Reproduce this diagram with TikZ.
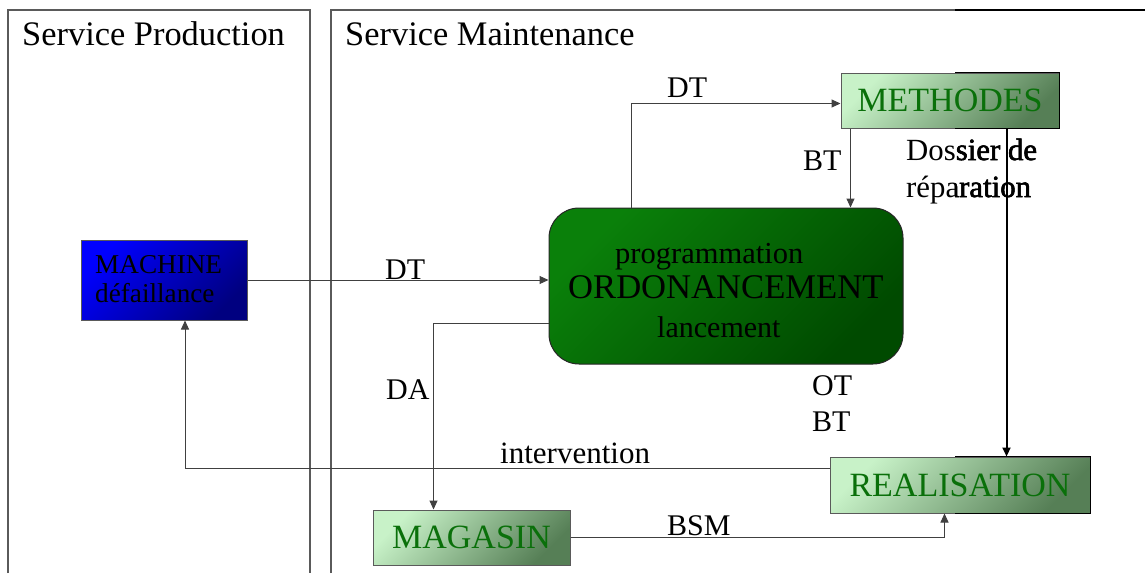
\documentclass[tikz,border=0pt]{standalone}
\usepackage{fontspec}
\setmainfont{Liberation Serif}
\usetikzlibrary{arrows.meta}

\definecolor{framegray}{HTML}{5A5A5A}
\definecolor{linegray}{HTML}{404040}
\definecolor{paleA}{HTML}{C8F2C8}
\definecolor{paleB}{HTML}{567F56}
\definecolor{boxtext}{HTML}{0A700A}
\definecolor{blueA}{HTML}{0000FF}
\definecolor{blueB}{HTML}{000080}
\definecolor{darkA}{HTML}{0A800A}
\definecolor{darkB}{HTML}{004A00}

\newcommand{\fsz}[1]{\fontsize{#1}{#1}\selectfont}

\tikzset{
  frameline/.style={draw=framegray, line width=1.1pt},
  palebox/.style={draw=framegray, line width=1pt, top color=paleA, bottom color=paleB,
    shading angle=45, inner sep=0pt, text=boxtext, font=\fsz{34},
    text height=22.5pt, text depth=0pt},
  conn/.style={draw=linegray, line width=1pt, -{Triangle[length=9pt,width=8pt]}},
  lbl/.style={inner sep=0pt, anchor=base west, font=\fsz{30}},
}

\begin{document}
\begin{tikzpicture}[x=1pt, y=-1pt]
  \useasboundingbox (0,0) rectangle (1145,573);

  % departments
  \draw[frameline] (8,573) -- (8,10) -- (310,10) -- (310,573);
  \draw[frameline] (331,573) -- (331,10) -- (1145,10);
  \node[lbl, font=\fsz{34.4}] (prod) at (22,45) {Service Production};
  \node[lbl, font=\fsz{34.4}] (maint) at (345,45) {Service Maintenance};

  % boxes
  \node[draw=framegray, line width=1pt, top color=blueA, bottom color=blueB, shading angle=45,
        minimum width=166pt, minimum height=80pt, inner sep=0pt] (machine) at (164,280) {};
  \node[lbl, font=\fsz{27.2}] (m1) at (95,273) {MACHINE};
  \node[lbl, font=\fsz{27.2}] (m2) at (95,302) {défaillance};

  \node[draw=black!85, line width=1pt, rounded corners=30pt, top color=darkA, bottom color=darkB,
        shading angle=45, minimum width=354pt, minimum height=156pt, inner sep=0pt] (ordo) at (726,286) {};
  \node[lbl, font=\fsz{30.5}] (o1) at (615,263) {programmation};
  \node[lbl, font=\fsz{34.6}] (o2) at (568,298) {ORDONANCEMENT};
  \node[lbl, font=\fsz{30}] (o3) at (657,337) {lancement};

  \node[palebox, minimum width=218pt, minimum height=55pt] (methodes) at (950,100.5) {METHODES};
  \node[palebox, minimum width=197pt, minimum height=55pt] (magasin) at (471.5,537.5) {MAGASIN};
  \node[palebox, minimum width=260pt, minimum height=56pt] (realisation) at (960,485) {REALISATION};

  % flows
  \draw[conn] (machine.east) -- (machine.east -| ordo.west);
  \draw[conn] ([xshift=83pt]ordo.north west) |- ([yshift=-3pt]methodes.west);
  \draw[conn] ([xshift=10pt]methodes.south west) -- ([xshift=10pt]methodes.south west |- ordo.north);
  \draw[conn] ([yshift=-37pt]ordo.west) -| ([xshift=61pt]magasin.north west);
  \draw[conn, draw=black, line width=2pt] ([xshift=166pt]methodes.south west)
        -- ([xshift=166pt]methodes.south west |- realisation.north);
  \draw[conn] ([yshift=17pt]realisation.west) -| ([xshift=21pt]machine.south);
  \draw[conn] (magasin.east) -| ([xshift=115pt]realisation.south west);

  % flow labels
  \node[lbl] (l1) at (667,97) {DT};
  \node[lbl] (l2) at (803,170) {BT};
  \node[lbl, font=\fsz{30.8}] (l3) at (906,160) {Dossier de};
  \node[lbl, font=\fsz{30.8}] (l4) at (906,197) {réparation};
  \node[lbl] (l5) at (385,279) {DT};
  \node[lbl] (l6) at (386,399) {DA};
  \node[lbl] (l7) at (812,395) {OT};
  \node[lbl] (l8) at (812,431) {BT};
  \node[lbl, font=\fsz{31}] (l9) at (500,463) {intervention};
  \node[lbl] (l10) at (667,535) {BSM};

  % heavier right-hand strokes
  \begin{scope}
    \clip (955,0) rectangle (1145,573);
    \draw[black, line width=2pt] (331,10) -- (1145,10);
    \draw[black, line width=1.6pt] (methodes.north west) rectangle (methodes.south east);
    \draw[black, line width=1.8pt] (realisation.north west) rectangle (realisation.south east);
    \node[lbl, font=\fsz{30.8}\addfontfeatures{FakeBold=1.6}] (b1) at (906,160) {Dossier de};
    \node[lbl, font=\fsz{30.8}\addfontfeatures{FakeBold=1.6}] (b2) at (906,197) {réparation};
  \end{scope}
\end{tikzpicture}
\end{document}
